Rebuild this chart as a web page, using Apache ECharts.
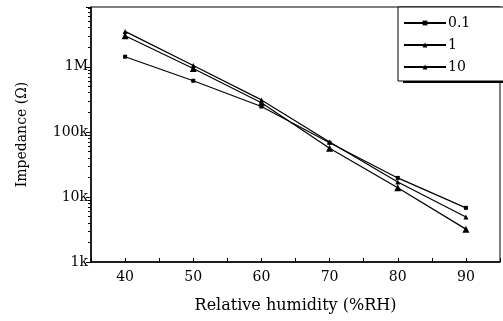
<!DOCTYPE html>
<html>
<head>
<meta charset="utf-8">
<script src="https://cdn.jsdelivr.net/npm/echarts@6/dist/echarts.min.js"></script>
<style>html,body{margin:0;padding:0;background:#fff}#c{width:503px;height:321px}</style>
</head>
<body>
<div id="c"></div>
<script>
// Data
const humidity = [40, 50, 60, 70, 80, 90];
const seriesNames = ['0.1', '1', '10'];
const z01 = [1.43e6, 6.1e5, 2.45e5, 6.8e4, 1.96e4, 6.8e3];
const z1 = [3.5e6, 1.05e6, 3.1e5, 7.0e4, 1.7e4, 4.9e3];
const z10 = [3.0e6, 9.4e5, 2.8e5, 5.6e4, 1.38e4, 3.2e3];
const yTickLabels = {1000: '1k', 10000: '10k', 100000: '100k', 1000000: '1M'};
const xTickLabels = [40, 50, 60, 70, 80, 90];
const minorY = [];
[1e3, 1e4, 1e5, 1e6].forEach(d => { for (let k = 2; k <= 9; k++) { if (d * k <= 8.3e6) minorY.push(d * k); } });

const FONT = 'DejaVu Serif';
const chart = echarts.init(document.getElementById('c'), null, {renderer: 'canvas'});
const mk = (name, data, symbol, size) => ({
  name, type: 'line', data: humidity.map((h, i) => [h, data[i]]),
  symbol, symbolSize: size, showSymbol: true,
  lineStyle: {color: '#000', width: 1.2}, itemStyle: {color: '#000'},
  animation: false
});
chart.setOption({
  backgroundColor: '#fff',
  animation: false,
  grid: {left: 91, right: 3, top: 7, bottom: 59, show: true, borderColor: '#000', borderWidth: 1},
  graphic: [{
    type: 'rect', z: 3, silent: true,
    shape: {x: 403, y: 11, width: 120, height: 72},
    style: {fill: '#000'}
  }],
  legend: {
    data: seriesNames, orient: 'vertical', left: 398, top: 7, z: 5,
    itemWidth: 42, itemHeight: 6, itemGap: 6,
    padding: [8, 50, 6, 5],
    backgroundColor: '#fff', borderColor: '#000', borderWidth: 1,
    textStyle: {fontFamily: FONT, fontSize: 14, lineHeight: 16, color: '#000', padding: [0, 0, 0, -3]}
  },
  xAxis: {
    type: 'value', min: 35, max: 95, interval: 5,
    name: 'Relative humidity (%RH)', nameLocation: 'middle', nameGap: 36,
    nameTextStyle: {fontFamily: FONT, fontSize: 16, color: '#000'},
    axisLine: {lineStyle: {color: '#000', width: 1.5}},
    axisTick: {inside: true, length: 4, lineStyle: {color: '#000'}},
    axisLabel: {fontFamily: FONT, fontSize: 14, color: '#000', margin: 8,
      formatter: v => xTickLabels.includes(v) ? String(v) : ''},
    splitLine: {show: false}
  },
  yAxis: [{
    type: 'log', min: 1000, max: 8.3e6, logBase: 10,
    name: 'Impedance (Ω)', nameLocation: 'middle', nameGap: 62,
    nameTextStyle: {fontFamily: FONT, fontSize: 14, color: '#000'},
    axisLine: {lineStyle: {color: '#000', width: 1.5}},
    axisTick: {length: 5, lineStyle: {color: '#000'}},
    axisLabel: {fontFamily: FONT, fontSize: 14, color: '#000', margin: 3,
      formatter: v => yTickLabels[Math.round(v)] || ''},
    splitLine: {show: false}
  }, {
    type: 'log', min: 1000, max: 8.3e6, logBase: 10, position: 'left',
    axisLine: {show: false},
    axisTick: {length: 3, customValues: minorY, lineStyle: {color: '#000'}},
    axisLabel: {show: false},
    splitLine: {show: false}
  }],
  series: [
    mk(seriesNames[0], z01, 'rect', 4),
    mk(seriesNames[1], z1, 'triangle', 5),
    mk(seriesNames[2], z10, 'triangle', 7)
  ]
});
</script>
</body>
</html>
